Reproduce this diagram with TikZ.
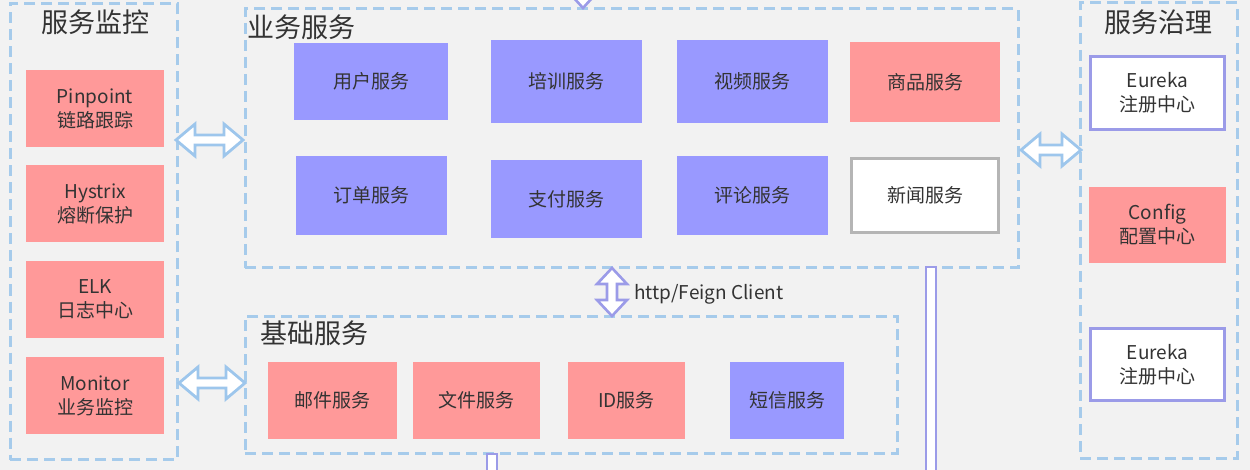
\documentclass[tikz,border=0pt]{standalone}
\usepackage{fontspec}
\setmainfont{Noto Sans CJK SC}
\usetikzlibrary{calc}
\definecolor{bg}{HTML}{F2F2F2}
\definecolor{pinkf}{HTML}{FF9999}
\definecolor{purpf}{HTML}{9999FF}
\definecolor{purpl}{HTML}{9B9BE8}
\definecolor{dashc}{HTML}{A6CBEB}
\definecolor{arrc}{HTML}{9DC6EC}
\definecolor{txt}{HTML}{333333}
\definecolor{grayb}{HTML}{B5B5B5}
\tikzset{
  grp/.style={draw=dashc, line width=3pt, dash pattern=on 11pt off 6pt, inner sep=0pt, outer sep=0pt},
  svc/.style={inner sep=0pt, outer sep=0pt, text=txt, align=center, font=\fontsize{19}{24}\selectfont},
  pinkbox/.style={svc, fill=pinkf},
  purpbox/.style={svc, fill=purpf},
  whitebox/.style={svc, fill=white, draw=grayb, line width=2.5pt},
  eurbox/.style={svc, fill=white, draw=purpl, line width=3pt},
  title/.style={text=txt, font=\fontsize{27}{30}\selectfont, inner sep=0pt},
  harr/.style={draw=arrc, line width=2.8pt, fill=white, line join=miter},
  varr/.style={draw=purpl, line width=2.6pt, fill=white, line join=miter},
}
\newcommand\hdarrow[3]{% x1 x2 y
  \draw[harr] (#1,#3) -- (#1+19,#3-16) -- (#1+19,#3-5) -- (#2-19,#3-5) -- (#2-19,#3-16) -- (#2,#3)
    -- (#2-19,#3+16) -- (#2-19,#3+5) -- (#1+19,#3+5) -- (#1+19,#3+16) -- cycle;}
\begin{document}
\begin{tikzpicture}[x=1pt,y=-1pt]
\useasboundingbox (0,0) rectangle (1250,470);
\clip (0,0) rectangle (1250,470);
\fill[bg] (0,0) rectangle (1250,470);

% groups
\node[grp, minimum width=167pt, minimum height=456pt] (gmon) at (93.5,231.5) {};
\node[grp, minimum width=773pt, minimum height=259pt] (gbiz) at (631.5,138.5) {};
\node[grp, minimum width=652pt, minimum height=137pt] (gbase) at (571,384.5) {};
\node[grp, minimum width=157pt, minimum height=455pt] (ggov) at (1158.5,230.5) {};

\node[title] (tmon) at (95,22) {服务监控};
\node[title, anchor=west] (tbiz) at (247,27) {业务服务};
\node[title, anchor=west] (tbase) at (260,333) {基础服务};
\node[title] (tgov) at (1158,22) {服务治理};

% monitoring boxes
\node[pinkbox, minimum width=138pt, minimum height=77pt] (pp) at (95,108.5) {Pinpoint\\链路跟踪};
\node[pinkbox, minimum width=138pt, minimum height=77pt] (hy) at (95,203.5) {Hystrix\\熔断保护};
\node[pinkbox, minimum width=138pt, minimum height=77pt] (elk) at (95,299.5) {ELK\\日志中心};
\node[pinkbox, minimum width=138pt, minimum height=77pt] (mo) at (95,395.5) {Monitor\\业务监控};

% business services
\node[purpbox, minimum width=154pt, minimum height=77pt] (user) at (371,81.5) {用户服务};
\node[purpbox, minimum width=151pt, minimum height=83pt] (train) at (566.5,81.5) {培训服务};
\node[purpbox, minimum width=151pt, minimum height=83pt] (video) at (752.5,81.5) {视频服务};
\node[pinkbox, minimum width=150pt, minimum height=80pt] (goods) at (925,82) {商品服务};
\node[purpbox, minimum width=151pt, minimum height=79pt] (order) at (371.5,195.5) {订单服务};
\node[purpbox, minimum width=151pt, minimum height=78pt] (pay) at (566.5,199) {支付服务};
\node[purpbox, minimum width=151pt, minimum height=79pt] (comm) at (752.5,195.5) {评论服务};
\node[whitebox, minimum width=147pt, minimum height=74pt] (news) at (925,195.5) {新闻服务};

% base services
\node[pinkbox, minimum width=129pt, minimum height=77pt] (mail) at (332.5,400.5) {邮件服务};
\node[pinkbox, minimum width=127pt, minimum height=77pt] (file) at (476.5,400.5) {文件服务};
\node[pinkbox, minimum width=117pt, minimum height=77pt] (idsv) at (626.5,400.5) {ID服务};
\node[purpbox, minimum width=114pt, minimum height=77pt] (sms) at (787,400.5) {短信服务};

% governance
\node[eurbox, minimum width=134pt, minimum height=73pt] (eur1) at (1157.5,93) {Eureka\\注册中心};
\node[pinkbox, minimum width=137pt, minimum height=76pt] (cfg) at (1157.5,225) {Config\\配置中心};
\node[eurbox, minimum width=134pt, minimum height=72pt] (eur2) at (1157.5,364.5) {Eureka\\注册中心};

% horizontal double arrows
\hdarrow{176}{243}{140}
\hdarrow{179}{245}{383}
\hdarrow{1021}{1081}{150}

% vertical double arrow (http/Feign)
\draw[varr] (612,268) -- (627,284) -- (617,284) -- (617,300) -- (627,300) -- (612,316)
  -- (597,300) -- (607,300) -- (607,284) -- (597,284) -- cycle;
\node[anchor=west, text=txt, font=\fontsize{19}{22}\selectfont, inner sep=0pt] (feign) at (634,294) {http/Feign Client};

% top arrow tip
\draw[varr] (573,-3) -- (583,8) -- (593,-3);

% vertical bars
\draw[varr] (926,267) rectangle (936,480);
\draw[varr] (487,454) rectangle (497,480);
\end{tikzpicture}
\end{document}
